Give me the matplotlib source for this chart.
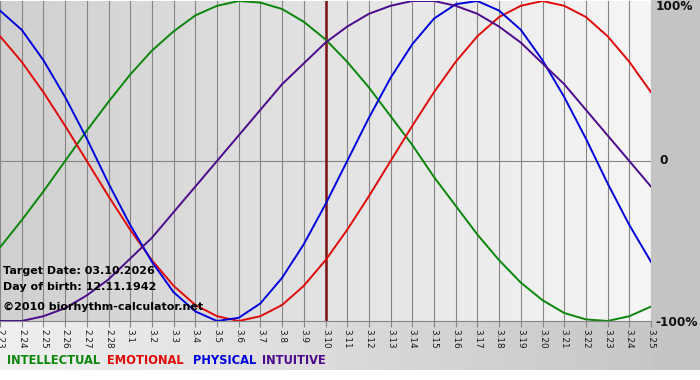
import numpy as np
import matplotlib
matplotlib.use('Agg')
import matplotlib.pyplot as plt
from matplotlib.colors import LinearSegmentedColormap
from matplotlib.patches import Rectangle

# day labels on the x axis (Feb 23 .. Mar 25)
days = ['2.23', '2.24', '2.25', '2.26', '2.27', '2.28'] + ['3.%d' % i for i in range(1, 26)]
target_day = '3.10'

# cycle values, one per day (-1 .. 1)
intellectual = [-0.54, -0.37, -0.19, 0.00, 0.19, 0.37, 0.54, 0.69, 0.81, 0.91, 0.97,
                1.00, 0.99, 0.95, 0.87, 0.76, 0.62, 0.46, 0.28, 0.10, -0.10, -0.28,
                -0.46, -0.62, -0.76, -0.87, -0.95, -0.99, -1.00, -0.97, -0.91]
emotional = [0.78, 0.62, 0.43, 0.22, 0.00, -0.22, -0.43, -0.62, -0.78, -0.90, -0.97,
             -1.00, -0.97, -0.90, -0.78, -0.62, -0.43, -0.22, 0.00, 0.22, 0.43, 0.62,
             0.78, 0.90, 0.97, 1.00, 0.97, 0.90, 0.78, 0.62, 0.43]
physical = [0.94, 0.82, 0.63, 0.40, 0.14, -0.14, -0.40, -0.63, -0.82, -0.94, -1.00,
            -0.98, -0.89, -0.73, -0.52, -0.27, 0.00, 0.27, 0.52, 0.73, 0.89, 0.98,
            1.00, 0.94, 0.82, 0.63, 0.40, 0.14, -0.14, -0.40, -0.63]
intuitive = [-1.00, -1.00, -0.97, -0.92, -0.84, -0.74, -0.61, -0.48, -0.32, -0.16, 0.00,
             0.16, 0.32, 0.48, 0.61, 0.74, 0.84, 0.92, 0.97, 1.00, 1.00, 0.97, 0.92,
             0.84, 0.74, 0.61, 0.48, 0.32, 0.16, 0.00, -0.16]

series = [('INTELLECTUAL', intellectual, '#0a860a'),
          ('EMOTIONAL', emotional, '#e00a0a'),
          ('PHYSICAL', physical, '#0000dc'),
          ('INTUITIVE', intuitive, '#4c0a8c')]

W, H = 700, 380
fig = plt.figure(figsize=(7, 3.8), dpi=100)
fig.patch.set_facecolor('white')

# background panel (pixel coords)
bg = fig.add_axes([0, 0, 1, 1])
bg.set_xlim(0, W)
bg.set_ylim(H, 0)
bg.axis('off')
bg.add_patch(Rectangle((651, 0), 49, 370, color='#c4c4c4', lw=0))
grad = np.linspace(0, 1, 256).reshape(1, -1)
bg.imshow(grad, cmap=LinearSegmentedColormap.from_list('b', ['#f0f0f0', '#c4c4c4']),
          extent=(0, W, 370, 321), aspect='auto')
bg.set_xlim(0, W)
bg.set_ylim(H, 0)

# plot area
ax = fig.add_axes([0, 1 - 321 / H, 651 / W, 320 / H])
x = np.arange(len(days))
ax.imshow(grad, cmap=LinearSegmentedColormap.from_list('p', ['#d0d0d0', '#f6f6f6']),
          extent=(0, len(days) - 1, -1, 1), aspect='auto', zorder=0)
ax.patch.set_visible(False)

for xi in x:
    ax.axvline(xi, color='#858585', lw=0.8, zorder=1)
ax.axhline(0, color='#858585', lw=0.8, zorder=1)
ax.axvline(days.index(target_day), color='#7a1010', lw=1.8, zorder=1.5)

for name, vals, col in series:
    ax.plot(x, vals, color=col, lw=1.4, zorder=2, solid_joinstyle='round')

ax.set_xlim(0, len(days) - 1)
ax.set_ylim(-1, 1)
ax.set_yticks([])
ax.set_xticks(x)
ax.set_xticklabels(days, rotation=270, fontsize=6.4, color='#1a1a1a')
ax.tick_params(axis='x', length=4, color='#858585', pad=1.5)
for s in ['top', 'left', 'right']:
    ax.spines[s].set_visible(False)
ax.spines['bottom'].set_color('#858585')
ax.spines['bottom'].set_linewidth(0.8)

def px(xp, yp):
    return xp / W, 1 - yp / H

# right axis labels
fig.text(*px(656, 7), '100%', fontsize=8.7, fontweight='bold', va='center', color='#111111')
fig.text(*px(659, 161), '0', fontsize=8.7, fontweight='bold', va='center', color='#111111')
fig.text(*px(655, 322), '-100%', fontsize=8.7, fontweight='bold', va='center', color='#111111')

# info text
fig.text(*px(3, 271), 'Target Date: 03.10.2026', fontsize=8, fontweight='bold', va='center')
fig.text(*px(3, 287), 'Day of birth: 12.11.1942', fontsize=8, fontweight='bold', va='center')
fig.text(*px(3, 307), '\u00a92010 biorhythm-calculator.net', fontsize=8, fontweight='bold', va='center')

# legend
leg_x = [7, 107, 193, 262]
for (name, vals, col), lx in zip(series, leg_x):
    fig.text(*px(lx, 361), name, fontsize=8.3, fontweight='bold', va='center', color=col)

fig.savefig('out.png', dpi=100, facecolor='white')
